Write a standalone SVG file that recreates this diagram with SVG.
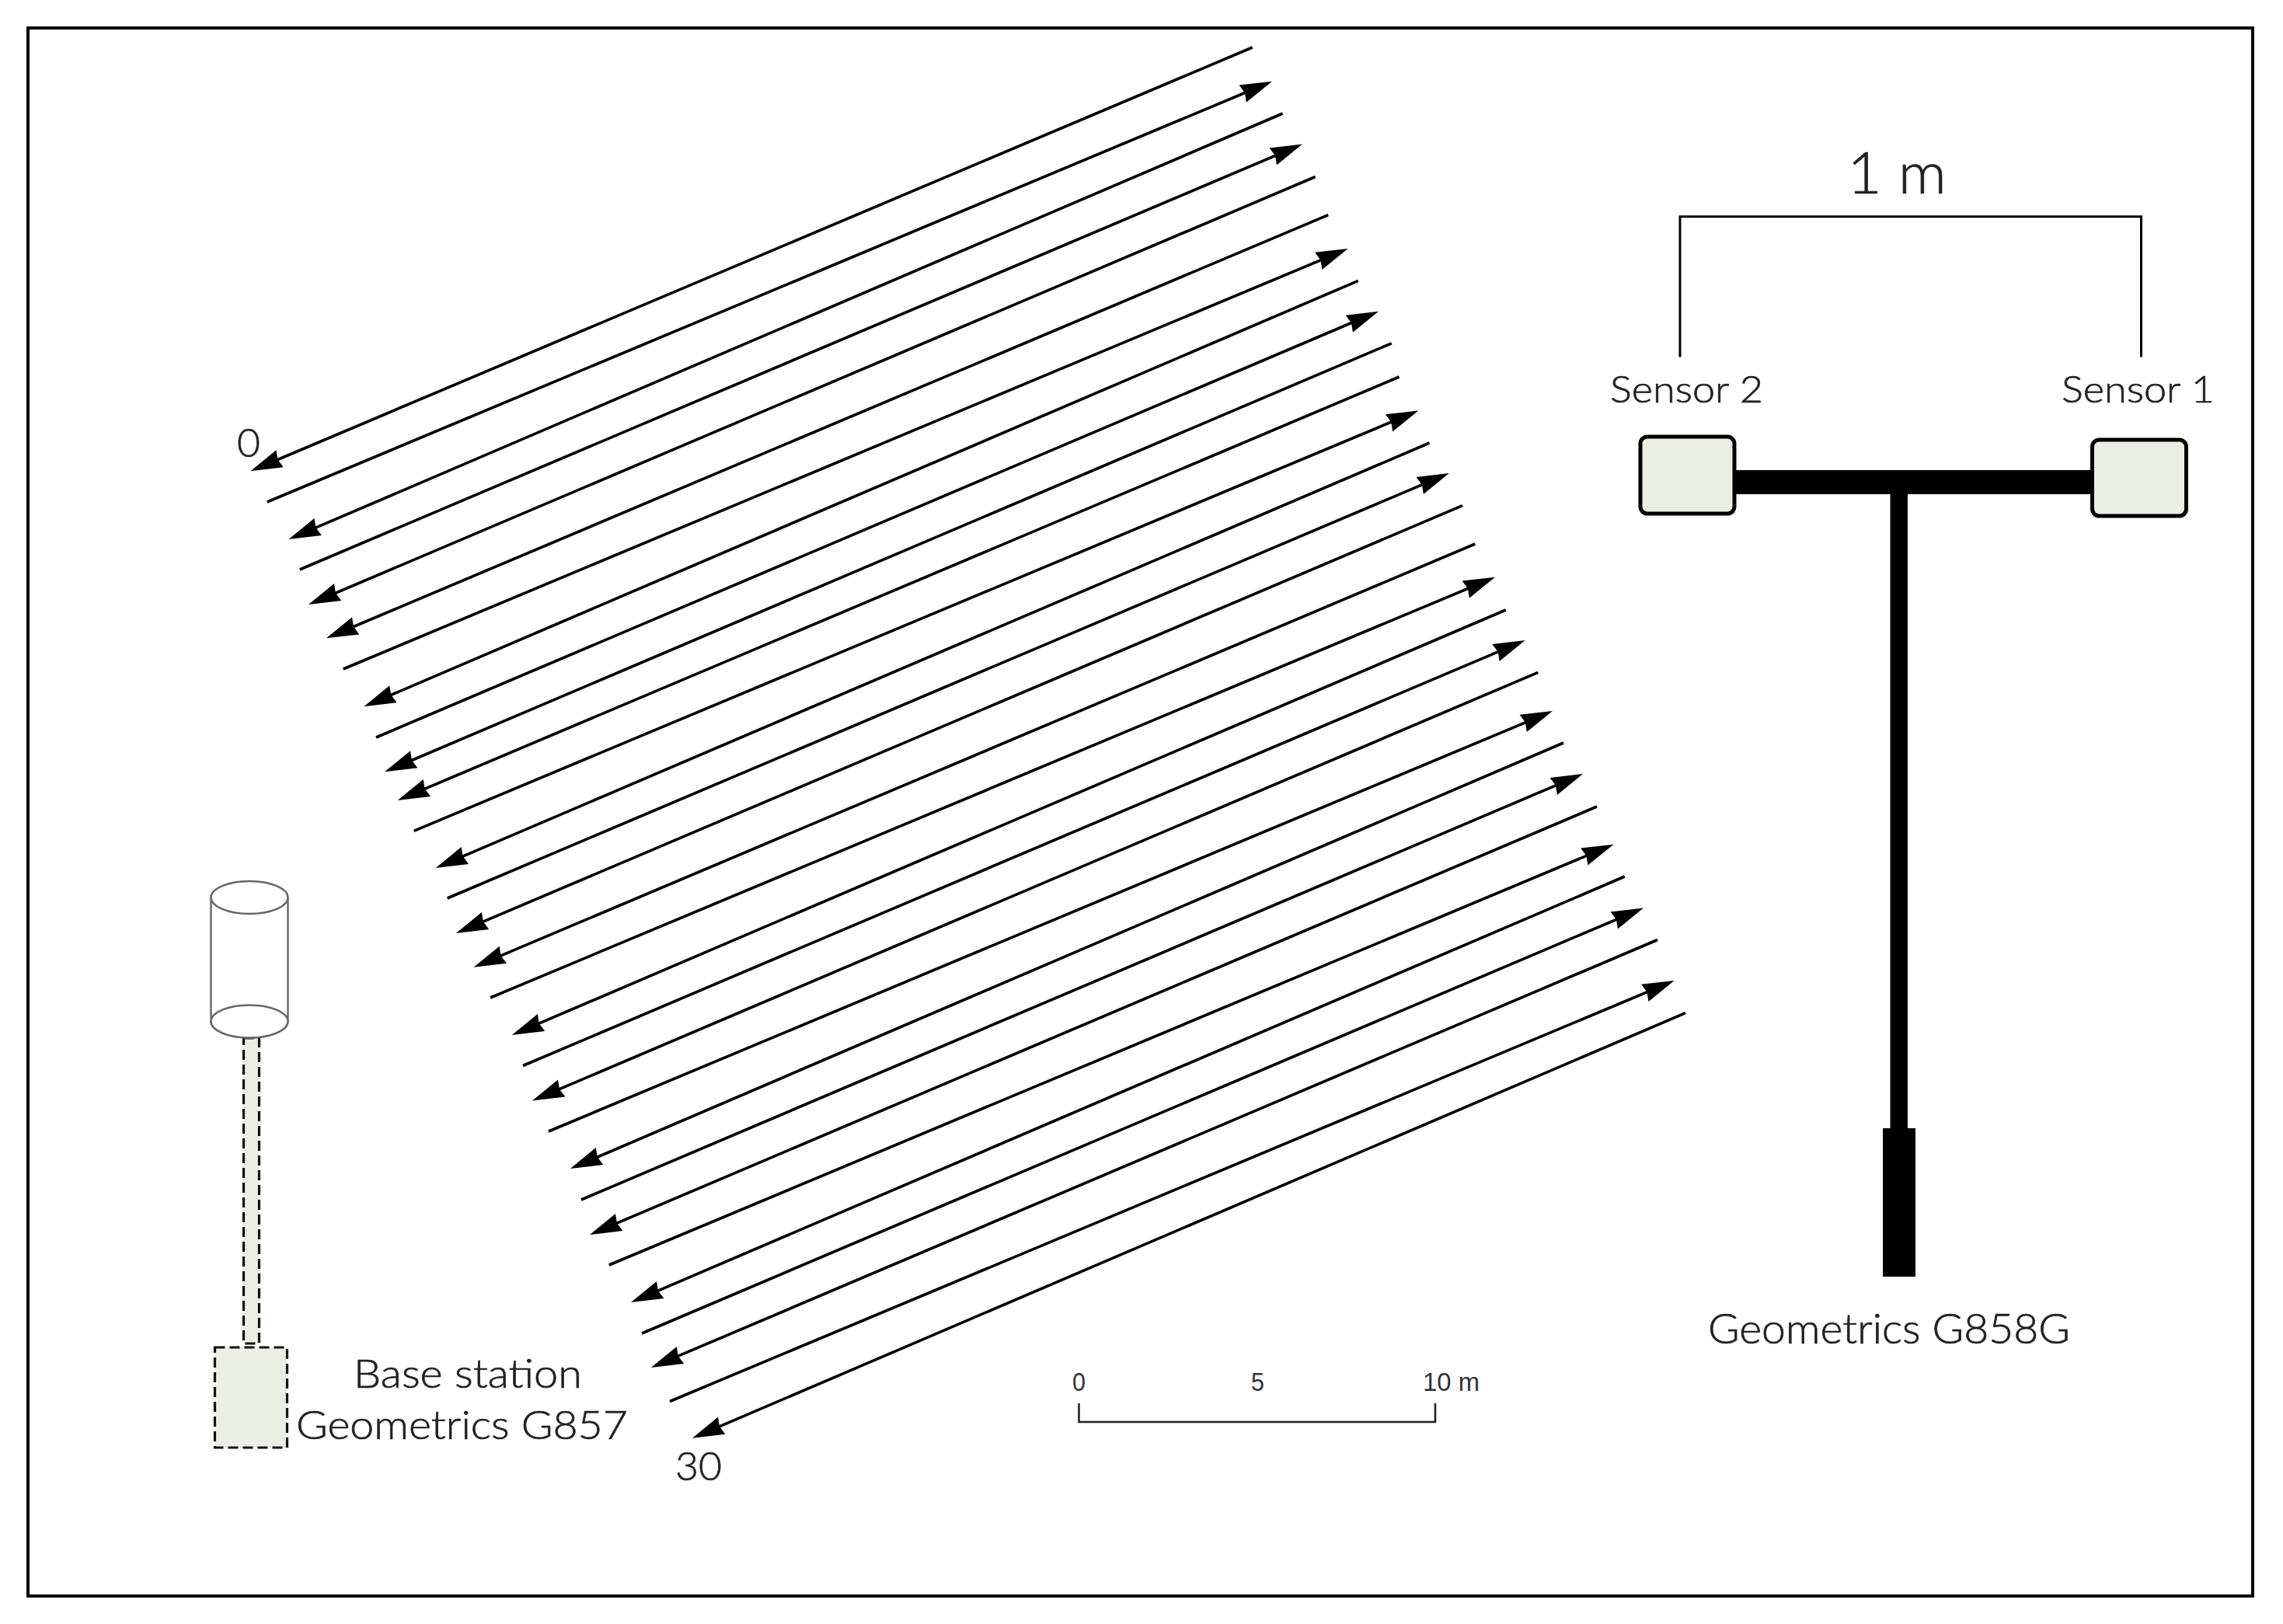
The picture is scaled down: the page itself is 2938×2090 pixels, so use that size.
<svg xmlns="http://www.w3.org/2000/svg" width="2938" height="2090" viewBox="0 0 2938 2090">
<style>
.t{font-family:"Lato","Open Sans","Liberation Sans",sans-serif;font-weight:300;fill:#222;stroke:#222;stroke-width:.7}
.s{font-family:"Liberation Sans",sans-serif;font-size:33px;fill:#333}
.track{stroke:#000;stroke-width:3.6;fill:none}
.head{fill:#000}
.green{fill:#EBEFE1}
.sensor{fill:#EBEFE1;stroke:#000;stroke-width:5}
.dash{fill:none;stroke:#111;stroke-width:3.2;stroke-dasharray:13 6}
.cyl{fill:#fff;stroke:#666;stroke-width:2.4}
</style>
<defs>
<marker id="arr" markerUnits="userSpaceOnUse" markerWidth="46" markerHeight="28" viewBox="0 -14 46 28" refX="21" refY="0" orient="auto">
<path class="head" d="M0,-12 L3,0 L0,12 L41,0 Z"/>
</marker>
</defs>
<rect width="2938" height="2090" fill="#fff"/>
<rect id="frame" x="36" y="36" width="2863" height="2018" fill="none" stroke="#000" stroke-width="4"/>

<g id="connectors" class="track" marker-end="none">
<line x1="1611.7" y1="61" x2="340.8" y2="598.5" marker-end="url(#arr)"/>
<line x1="343.8" y1="646" x2="1618.6" y2="112.5" marker-end="url(#arr)"/>
<line x1="1650.7" y1="146" x2="389.9" y2="686.2" marker-end="url(#arr)"/>
<line x1="385.8" y1="733" x2="1657.6" y2="193.3" marker-end="url(#arr)"/>
<line x1="1692.7" y1="227.5" x2="415.4" y2="770.2" marker-end="url(#arr)"/>
<line x1="1709.3" y1="276.6" x2="438.4" y2="813.5" marker-end="url(#arr)"/>
<line x1="441.7" y1="861" x2="1716.2" y2="327.8" marker-end="url(#arr)"/>
<line x1="1747.8" y1="361.4" x2="486.7" y2="901.5" marker-end="url(#arr)"/>
<line x1="484" y1="949" x2="1755.6" y2="408.5" marker-end="url(#arr)"/>
<line x1="1790.8" y1="441.8" x2="513.4" y2="985.5" marker-end="url(#arr)"/>
<line x1="1800.6" y1="485" x2="530.1" y2="1022.2" marker-end="url(#arr)"/>
<line x1="532.7" y1="1069.3" x2="1806.9" y2="536.2" marker-end="url(#arr)"/>
<line x1="1839.6" y1="570" x2="579.1" y2="1109.2" marker-end="url(#arr)"/>
<line x1="575.7" y1="1156" x2="1846.5" y2="616.8" marker-end="url(#arr)"/>
<line x1="1882" y1="650.7" x2="605.3" y2="1193.2" marker-end="url(#arr)"/>
<line x1="1898.3" y1="700" x2="628" y2="1236.9" marker-end="url(#arr)"/>
<line x1="631" y1="1284" x2="1905.6" y2="750.5" marker-end="url(#arr)"/>
<line x1="1937.7" y1="785" x2="677.2" y2="1324.2" marker-end="url(#arr)"/>
<line x1="673" y1="1371.5" x2="1944.3" y2="831.8" marker-end="url(#arr)"/>
<line x1="1979.3" y1="865.3" x2="703.4" y2="1408.7" marker-end="url(#arr)"/>
<line x1="706" y1="1456" x2="1979.6" y2="922.8" marker-end="url(#arr)"/>
<line x1="2012" y1="956" x2="752.2" y2="1496.2" marker-end="url(#arr)"/>
<line x1="748" y1="1544" x2="2018.6" y2="1003.8" marker-end="url(#arr)"/>
<line x1="2055" y1="1038" x2="777.4" y2="1581.2" marker-end="url(#arr)"/>
<line x1="783.8" y1="1628" x2="2058.1" y2="1094.4" marker-end="url(#arr)"/>
<line x1="2090.8" y1="1128" x2="830.4" y2="1668.2" marker-end="url(#arr)"/>
<line x1="826" y1="1716" x2="2096.6" y2="1176.3" marker-end="url(#arr)"/>
<line x1="2133" y1="1209.5" x2="856.2" y2="1752.2" marker-end="url(#arr)"/>
<line x1="862" y1="1803.5" x2="2136.2" y2="1269.8" marker-end="url(#arr)"/>
<line x1="2169" y1="1303.6" x2="909.4" y2="1842.9" marker-end="url(#arr)"/>
</g>

<g id="line-labels">
<text class="t" x="305" y="588" font-size="52" textLength="30" lengthAdjust="spacingAndGlyphs">0</text>
<text class="t" x="869" y="1905" font-size="52" textLength="60" lengthAdjust="spacingAndGlyphs">30</text>
</g>

<g id="base-station">
<rect class="green" x="312" y="1336" width="22.6" height="393"/>
<rect class="dash" x="313.5" y="1336" width="20" height="393"/>
<rect class="green" x="276.5" y="1734" width="93" height="129"/>
<rect class="dash" x="276.5" y="1734" width="93" height="129"/>
<path class="cyl" d="M271.5,1155 V1314.5 A49.5,21 0 0 0 370.5,1314.5 V1155"/>
<ellipse class="cyl" cx="321" cy="1155" rx="49.5" ry="21"/>
<ellipse class="cyl" cx="321" cy="1314.5" rx="49.5" ry="21"/>
<text class="t" x="455" y="1785.5" font-size="52" textLength="294" lengthAdjust="spacingAndGlyphs">Base station</text>
<text class="t" x="381" y="1851.5" font-size="52" textLength="427" lengthAdjust="spacingAndGlyphs">Geometrics G857</text>
</g>

<g id="scale-bar">
<path d="M1388.5,1806 V1830 H1847 V1806" fill="none" stroke="#222" stroke-width="2.6"/>
<text class="s" x="1380" y="1789.5" textLength="17" lengthAdjust="spacingAndGlyphs">0</text>
<text class="s" x="1610" y="1789.5" textLength="17" lengthAdjust="spacingAndGlyphs">5</text>
<text class="s" x="1831" y="1789.5" textLength="73" lengthAdjust="spacingAndGlyphs">10 m</text>
</g>

<g id="bracket">
<path d="M2162,459.5 V278.7 H2755.5 V459.5" fill="none" stroke="#000" stroke-width="3"/>
<text class="t" x="2377" y="249" font-size="74" textLength="128" lengthAdjust="spacingAndGlyphs">1 m</text>
</g>

<g id="sensor-2">
<rect class="sensor" x="2111" y="562" width="121" height="99" rx="9"/>
<text class="t" x="2072" y="518" font-size="48" textLength="197" lengthAdjust="spacingAndGlyphs">Sensor 2</text>
</g>
<g id="sensor-1">
<rect class="sensor" x="2692.5" y="566" width="121" height="98" rx="9"/>
<text class="t" x="2653" y="518" font-size="48" textLength="197" lengthAdjust="spacingAndGlyphs">Sensor 1</text>
</g>

<g id="magnetometer">
<rect x="2233.5" y="605" width="457.5" height="31" fill="#000"/>
<rect x="2432.5" y="636" width="22.5" height="816" fill="#000"/>
<rect x="2423" y="1452" width="42" height="191" fill="#000"/>
<text class="t" x="2198" y="1729" font-size="54" textLength="466" lengthAdjust="spacingAndGlyphs">Geometrics G858G</text>
</g>
</svg>
